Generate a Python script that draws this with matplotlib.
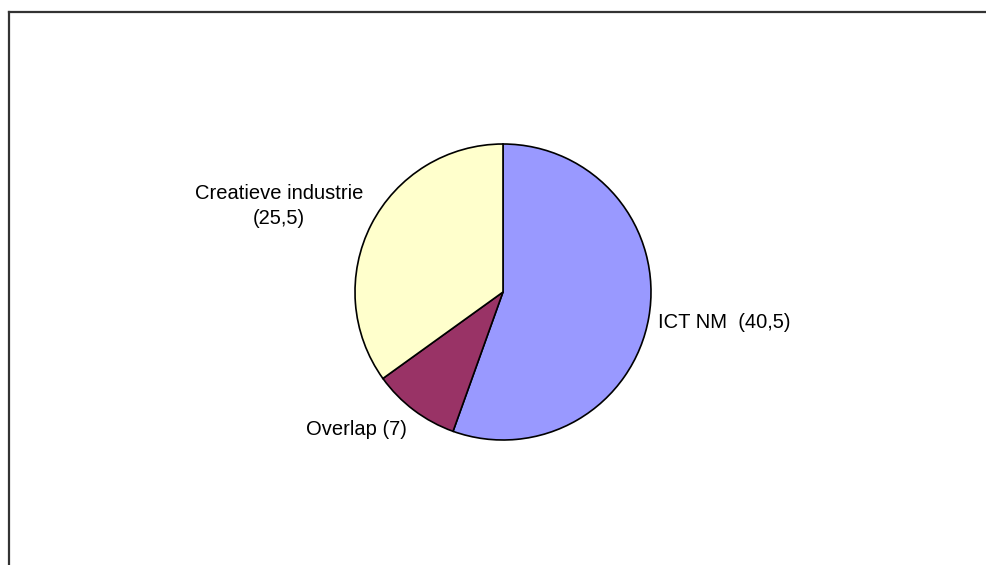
import matplotlib.pyplot as plt
from matplotlib.lines import Line2D

plt.rcParams['font.family'] = ['Liberation Sans', 'DejaVu Sans']

# Data
labels = ['ICT NM  (40,5)', 'Overlap (7)', 'Creatieve industrie\n(25,5)']
values = [40.5, 7, 25.5]
colors = ['#9999FF', '#993366', '#FFFFCC']

W, H = 986, 565
fig = plt.figure(figsize=(W / 100, H / 100), dpi=100)

# pie centre in pixels and radius
cx, cy, R = 503, 292, 148
a = 1.8
ax = fig.add_axes([(cx - a * R) / W, (H - cy - a * R) / H, 2 * a * R / W, 2 * a * R / H])
ax.pie(values, colors=colors, startangle=90, counterclock=False,
       wedgeprops={'edgecolor': 'black', 'linewidth': 1.2})
ax.set_xlim(-a, a)
ax.set_ylim(-a, a)
ax.set_aspect('equal')
ax.axis('off')

# Excel-style label placement
fs = 14.5
ax.text(1.047, -0.203, labels[0], ha='left', va='center', fontsize=fs)
ax.text(-0.649, -0.926, labels[1], ha='right', va='center', fontsize=fs)
ax.text(-1.514, 0.581, labels[2], ha='center', va='center', fontsize=fs,
        multialignment='center', linespacing=1.45)

# chart border (only top and left edges visible in crop)
fig.add_artist(Line2D([9 / W, 1], [1 - 12 / H, 1 - 12 / H], color='#333333', linewidth=1.6))
fig.add_artist(Line2D([9 / W, 9 / W], [0, 1 - 12 / H], color='#333333', linewidth=1.6))

fig.savefig('out.png', dpi=100)
